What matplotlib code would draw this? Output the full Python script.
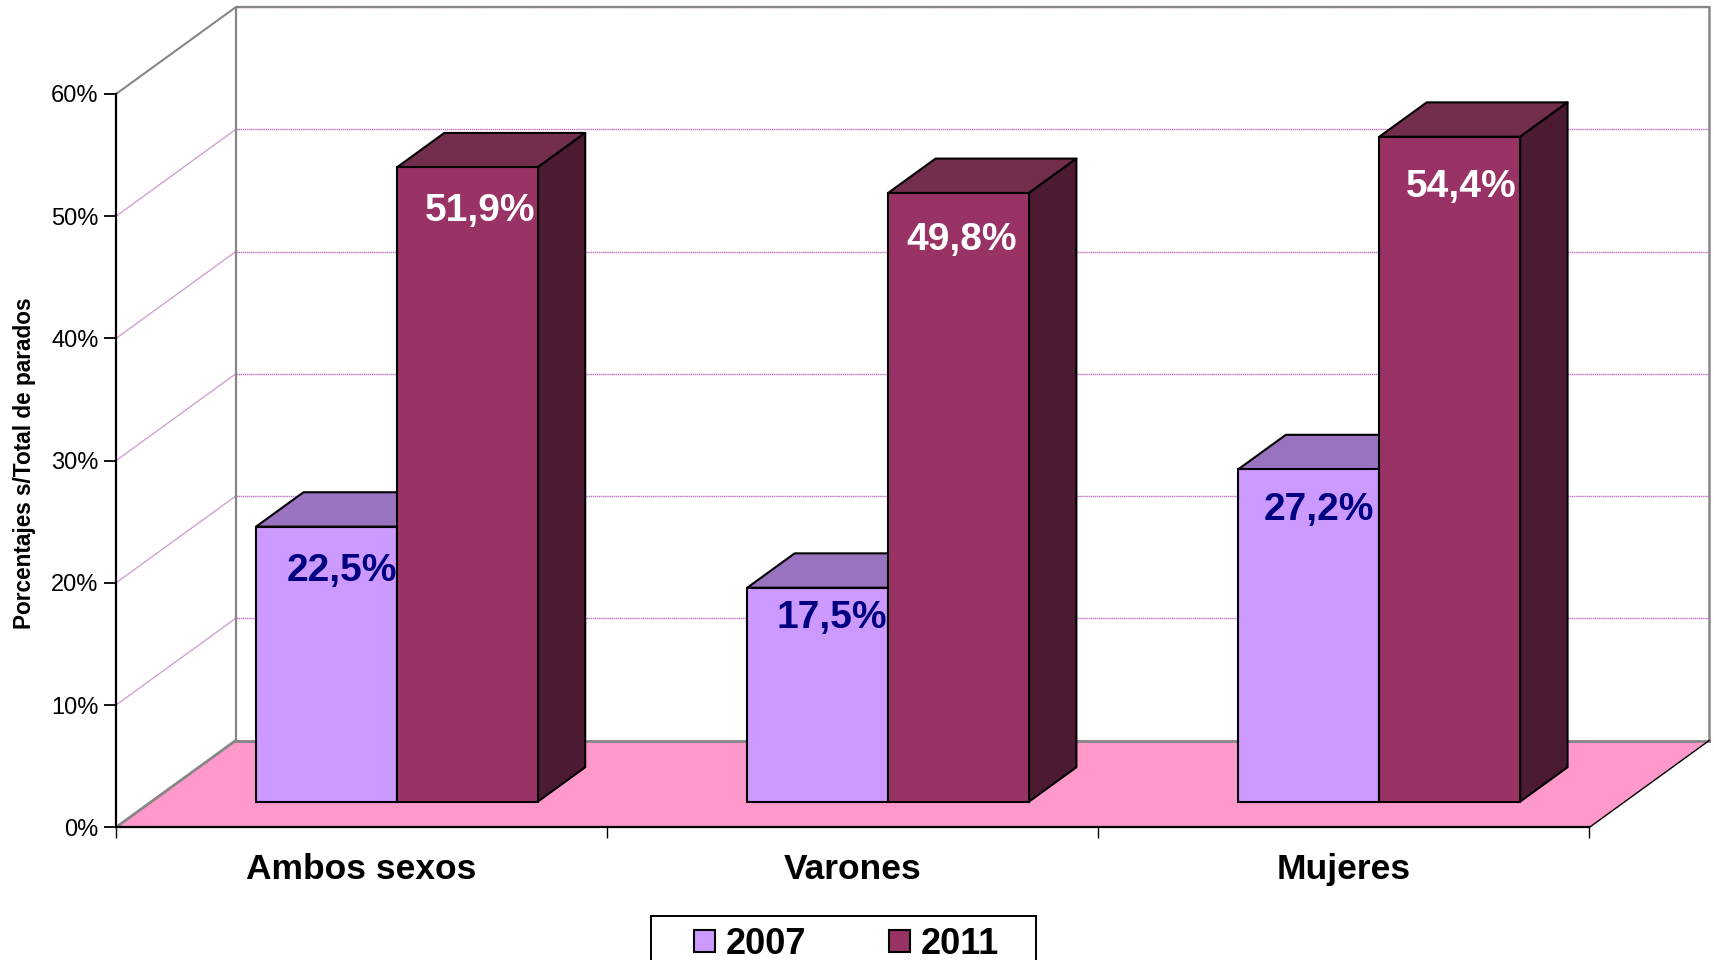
import matplotlib
matplotlib.use("Agg")
import matplotlib.pyplot as plt
from matplotlib.patches import Rectangle
from matplotlib.transforms import Affine2D

categories = ["Ambos sexos", "Varones", "Mujeres"]
series_names = ["2007", "2011"]
values_2007 = [22.5, 17.5, 27.2]
values_2011 = [51.9, 49.8, 54.4]
labels_2007 = ["22,5%", "17,5%", "27,2%"]
labels_2011 = ["51,9%", "49,8%", "54,4%"]
y_ticks = [0, 10, 20, 30, 40, 50, 60]
y_tick_labels = ["0%", "10%", "20%", "30%", "40%", "50%", "60%"]

# label placement relative to the bar's top centre, in pixels
offset_2007 = [(15, -44), (14, -30), (10, -41)]
offset_2011 = [(13, -44), (3, -47), (11, -50)]

plt.rcParams["font.family"] = ["Liberation Sans", "DejaVu Sans"]
W, H = 1715, 960
fig = plt.figure(figsize=(W / 100, H / 100), dpi=100, facecolor="white")
L, R, T, B = 116.0, 1589.5, 94.0, 827.3
ax = fig.add_axes([L / W, 1 - B / H, (R - L) / W, (B - T) / H])
ax.patch.set_visible(False)
ax.set_xlim(0, 3)
ax.set_ylim(0, 60)

# oblique depth: full depth of the chart box, in data units
DX = 119.7 / ((R - L) / 3)
DY = 86.8 / ((B - T) / 60)
def proj(x, y, d):
    return x + d * DX, y + d * DY
def shifted(d):
    return Affine2D().translate(d * DX, d * DY) + ax.transData

GRAY = "#868686"
WALL = "#CC99CC"
BACK = "#C070C0"

# floor
fx = [0, 3, 3 + DX, DX]
fy = [0, 0, DY, DY]
ax.fill(fx, fy, facecolor="#FF99CC", edgecolor="none", zorder=1, clip_on=False)

# grid lines on the left wall and the back wall
for v in y_ticks[1:]:
    x0, y0 = proj(0, v, 0)
    x1, y1 = proj(0, v, 1)
    ax.plot([x0, x1], [y0, y1], color=GRAY if v == 60 else WALL, lw=1.5 if v == 60 else 0.9,
            zorder=2, clip_on=False)
    ax.plot([0, 3], [v, v], transform=shifted(1), color=BACK, lw=1.0,
            ls=(0, (1, 0.5)), zorder=2, clip_on=False)

# wall outlines
ax.plot([0, 0, 3], [0, 60, 60], transform=shifted(1), color=GRAY, lw=1.6, zorder=3, clip_on=False)
ax.plot([3, 3], [0, 60], transform=shifted(1), color=GRAY, lw=1.8, zorder=3, clip_on=False)
ax.plot([0, 3], [0, 0], transform=shifted(1), color=GRAY, lw=2.0, zorder=3, clip_on=False)
ax.plot([0, DX], [0, DY], color=GRAY, lw=2.0, zorder=3, clip_on=False)
ax.plot([3, 3 + DX], [0, DY], color="black", lw=1.0, zorder=3, clip_on=False)

# bars
D0, D1 = 0.296, 0.692
BW = 0.2868
GAP = 0.2131
def draw_bars(values, x_off, front, top, side, name, z):
    xs = [i + GAP + x_off for i in range(len(values))]
    ax.bar(xs, values, width=BW, align="edge", color=front, edgecolor="black",
           linewidth=1.5, transform=shifted(D0), zorder=z + 1, clip_on=False, label=name)
    for x, v in zip(xs, values):
        a = proj(x, v, D0); b = proj(x + BW, v, D0)
        c = proj(x + BW, v, D1); d = proj(x, v, D1)
        ax.fill(*zip(a, b, c, d), facecolor=top, edgecolor="black", lw=1.5,
                zorder=z, joinstyle="round", clip_on=False)
        e = proj(x + BW, 0, D0); f = proj(x + BW, 0, D1)
        ax.fill(*zip(b, e, f, c), facecolor=side, edgecolor="black", lw=1.5,
                zorder=z, joinstyle="round", clip_on=False)
    return xs

xs07 = draw_bars(values_2007, 0.0, "#CC99FF", "#9973BF", "#664D80", series_names[0], 5)
xs11 = draw_bars(values_2011, BW, "#993366", "#732D4D", "#4D1A33", series_names[1], 8)

# data labels
for xs, vals, labs, offs, col, z in [
    (xs07, values_2007, labels_2007, offset_2007, "#000080", 7),
    (xs11, values_2011, labels_2011, offset_2011, "white", 10),
]:
    for x, v, s, (ox, oy) in zip(xs, vals, labs, offs):
        ax.annotate(s, xy=(x + BW / 2, v), xycoords=shifted(D0),
                    xytext=(ox * 0.72, oy * 0.72), textcoords="offset points",
                    ha="center", va="center", fontsize=28, fontweight="bold",
                    color=col, zorder=z, annotation_clip=False)

# axes
for s in ("top", "right"):
    ax.spines[s].set_visible(False)
for s in ("left", "bottom"):
    ax.spines[s].set_linewidth(1.6)
    ax.spines[s].set_zorder(12)
ax.set_yticks(y_ticks, y_tick_labels)
ax.tick_params(axis="y", length=8.6, width=1.3, labelsize=17, pad=4)
ax.set_xticks([0, 1, 2, 3], ["", "", "", ""])
ax.tick_params(axis="x", which="major", length=8, width=1.0)
ax.set_xticks([0.5, 1.5, 2.5], categories, minor=True)
ax.tick_params(axis="x", which="minor", length=0, labelsize=25.5, pad=18.3)
for t in ax.get_xticklabels(minor=True):
    t.set_fontweight("bold")
ax.set_ylabel("Porcentajes s/Total de parados", fontsize=16.3, fontweight="bold")
ax.yaxis.set_label_coords((36 - L) / (R - L), (B - 463) / (B - T))

# legend box runs off the bottom of the canvas, as in the original
fig.add_artist(Rectangle((651 / W, 1 - 975 / H), (1036 - 651) / W, (975 - 916) / H,
                         transform=fig.transFigure, facecolor="white",
                         edgecolor="black", linewidth=1.4))
fig.legend(*ax.get_legend_handles_labels(), loc="center left",
           bbox_to_anchor=(694 / W, 1 - 944 / H), bbox_transform=fig.transFigure,
           ncol=2, frameon=False, borderaxespad=0, borderpad=0,
           handlelength=0.58, handleheight=0.55, handletextpad=0.3,
           columnspacing=2.3, prop={"weight": "bold", "size": 26})

fig.savefig("out.png", dpi=100, facecolor="white")
